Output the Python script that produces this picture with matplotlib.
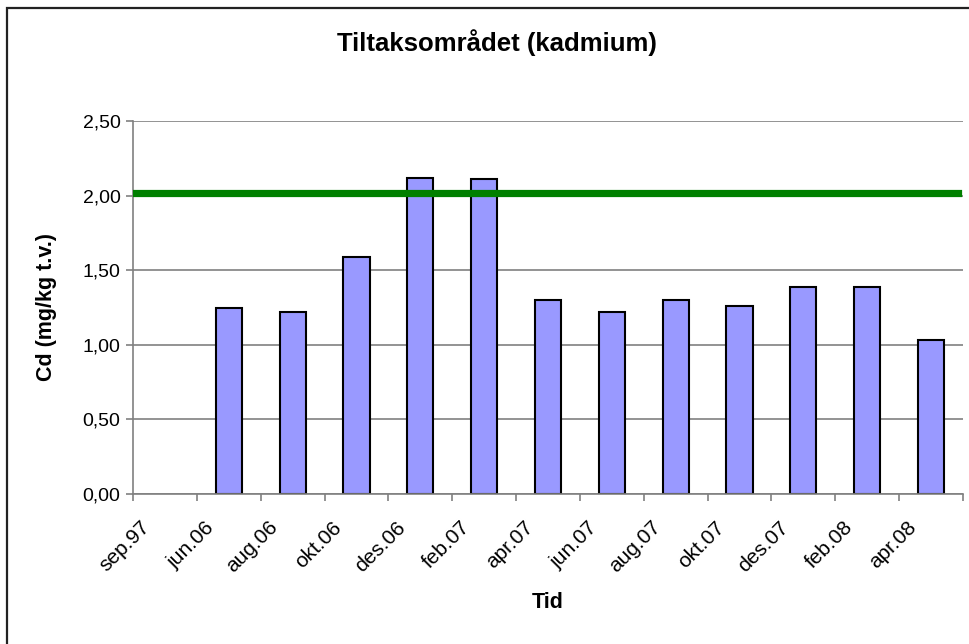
import numpy as np
import matplotlib
matplotlib.use("Agg")
import matplotlib.pyplot as plt
import matplotlib.patches as mpatches
import matplotlib.transforms as mtransforms

# Data
months = ["sep.97", "jun.06", "aug.06", "okt.06", "des.06", "feb.07", "apr.07",
          "jun.07", "aug.07", "okt.07", "des.07", "feb.08", "apr.08"]
cd_values = [None, 1.25, 1.22, 1.59, 2.12, 2.11, 1.30,
             1.22, 1.30, 1.26, 1.39, 1.39, 1.03]
limit_value = 2.02
y_ticks = [0.0, 0.5, 1.0, 1.5, 2.0, 2.5]

plt.rcParams['font.family'] = ['Liberation Sans', 'DejaVu Sans']

W, H = 969, 644
fig = plt.figure(figsize=(W / 100, H / 100), dpi=100)
ax = fig.add_axes([133 / W, 1 - 494 / H, (963 - 133) / W, (494 - 121) / H])

x = np.arange(len(months))
vals = np.array([np.nan if v is None else v for v in cd_values], dtype=float)

# Gridlines
ax.set_axisbelow(True)
ax.yaxis.grid(True, color='#808080', linewidth=1.2)

ax.bar(x, vals, width=0.41, color='#9999FF', edgecolor='black', linewidth=1.5, zorder=2)
ax.axhline(limit_value, xmin=0, xmax=0.994, color='#008000', linewidth=5.2, zorder=3)

ax.set_xlim(-0.5, len(months) - 0.5)
ax.set_ylim(0, 2.5)

# y axis
ax.set_yticks(y_ticks)
ax.set_yticklabels([f"{v:.2f}".replace('.', ',') for v in y_ticks], fontsize=14)
ax.tick_params(axis='y', direction='out', length=5, width=1.2, color='#808080', pad=4)

# x axis: boundary ticks (major), labels at centres (minor)
ax.set_xticks(np.arange(-0.5, len(months), 1.0))
ax.set_xticklabels([])
ax.tick_params(axis='x', which='major', direction='out', length=5, width=1.2, color='#808080')
ax.set_xticks(x, minor=True)
ax.set_xticklabels(months, minor=True, rotation=45, ha='right', va='top', fontsize=15)
ax.tick_params(axis='x', which='minor', length=0, pad=17)
offset = mtransforms.ScaledTranslation(-11 / 100, 0, fig.dpi_scale_trans)
for lbl in ax.xaxis.get_minorticklabels():
    lbl.set_transform(lbl.get_transform() + offset)

for side in ['top', 'right']:
    ax.spines[side].set_visible(False)
for side in ['left', 'bottom']:
    ax.spines[side].set_color('#808080')
    ax.spines[side].set_linewidth(1.2)

# Labels and title
fig.text(497 / W, 1 - 43 / H, "Tiltaksområdet (kadmium)", ha='center', va='center',
         fontsize=18.5, fontweight='bold')
fig.text(548 / W, 1 - 603 / H, "Tid", ha='center', va='center', fontsize=15.5, fontweight='bold')
fig.text(47 / W, 1 - 307 / H, "Cd (mg/kg t.v.)", ha='center', va='center', rotation=90,
         fontsize=15.5, fontweight='bold')

# Outer chart frame (only left and top visible in the crop)
frame = mpatches.Rectangle((7 / W, -0.1), 1.2, 1 - 8 / H + 0.1, transform=fig.transFigure,
                           fill=False, edgecolor='#222222', linewidth=1.6)
fig.patches.append(frame)

fig.savefig("out.png", dpi=100)
